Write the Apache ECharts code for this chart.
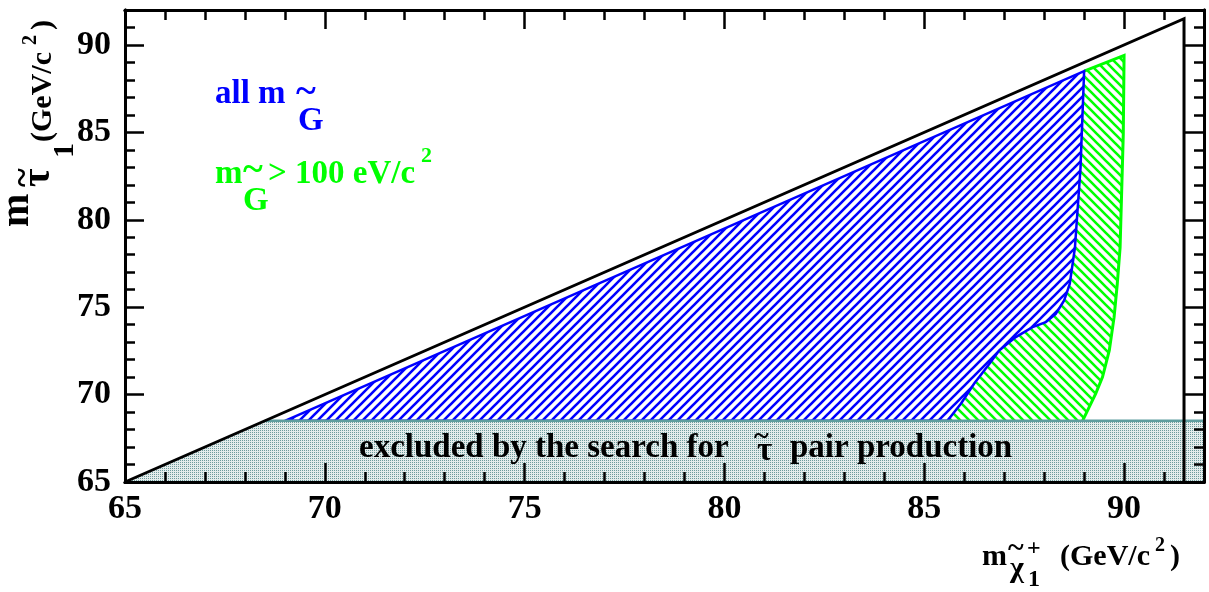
<!DOCTYPE html>
<html><head><meta charset="utf-8">
<script src="https://cdn.jsdelivr.net/npm/echarts@6/dist/echarts.min.js"></script>
<style>html,body{margin:0;padding:0;background:#fff}#c{width:1209px;height:592px}</style>
</head><body><div id="c"></div>
<script>
// ---------- data ----------
const xRange = [65, 92];
const yRange = [65, 92];
const xTickLabels = ['65', '70', '75', '80', '85', '90'];
const yTickLabels = ['65', '70', '75', '80', '85', '90'];
// kinematic limit m(stau) = m(chargino), ending at m(chargino)=91.5
const kinematicLimit = [[65, 65], [91.5, 91.5], [91.5, 65]];
// region excluded by the direct stau pair search (m(stau) < 68.5)
const excludedBand = [[65, 65], [68.5, 68.5], [92, 68.5], [92, 65]];
const excludedBandTop = [[68.5, 68.5], [92, 68.5]];
// "all m(G~)" region: upper edge and right edge
const blueTopEdge = [[69.0, 68.5], [89.0, 88.5]];
const blueRightEdge = [[89.0, 88.5], [88.91, 82.97], [88.77, 78.4], [88.64, 76.33], [88.5, 75.38],
  [88.29, 74.62], [88.04, 74.14], [87.71, 73.86], [87.29, 73.29], [86.88, 72.53], [86.63, 71.77],
  [86.25, 70.63], [85.92, 69.49], [85.58, 68.5]];
// "m(G~) > 100 eV/c^2" region: outer edge
const greenOuterEdge = [[89.0, 88.5], [90.0, 89.4], [89.98, 84.9], [89.9, 78.4], [89.83, 76.33],
  [89.75, 74.43], [89.63, 72.53], [89.46, 71.0], [89.29, 70.06], [89.13, 69.3], [88.96, 68.5]];

// ---------- styling helpers ----------
const FONT = 'Liberation Serif';
function hatch(color, dir, p, w) {
  const c = document.createElement('canvas');
  c.width = p; c.height = p;
  const g = c.getContext('2d');
  g.fillStyle = '#fff'; g.fillRect(0, 0, p, p);
  g.strokeStyle = color; g.lineWidth = w; g.beginPath();
  if (dir === '/') {
    g.moveTo(-1, p + 1); g.lineTo(p + 1, -1);
    g.moveTo(-1, 1); g.lineTo(1, -1);
    g.moveTo(p - 1, p + 1); g.lineTo(p + 1, p - 1);
  } else {
    g.moveTo(-1, -1); g.lineTo(p + 1, p + 1);
    g.moveTo(p - 1, -1); g.lineTo(p + 1, 1);
    g.moveTo(-1, p - 1); g.lineTo(1, p + 1);
  }
  g.stroke();
  return { image: c, repeat: 'repeat' };
}
function dots() {
  const c = document.createElement('canvas');
  c.width = 2; c.height = 2;
  const g = c.getContext('2d');
  g.fillStyle = '#e4ecec'; g.fillRect(0, 0, 2, 2);
  g.fillStyle = '#6e9c9c'; g.fillRect(0, 0, 1, 1);
  return { image: c, repeat: 'repeat' };
}
const blueFill = hatch('#0000ff', '/', 9, 2.6);
const greenFill = hatch('#00ff00', '\\', 9, 2.6);
const bandFill = dots();

function shapeSeries(z, build) {
  return {
    type: 'custom', coordinateSystem: 'cartesian2d', xAxisIndex: 0, yAxisIndex: 0,
    data: [[65, 65]], silent: true, animation: false, z: z, clip: false,
    renderItem: (params, api) => ({ type: 'group', children: build(api) })
  };
}
const P = (api, arr) => arr.map(p => api.coord(p));

const greenPoly = greenOuterEdge.concat(blueRightEdge.slice().reverse());
const bluePoly = blueTopEdge.concat(blueRightEdge.slice(1));

const series = [
  shapeSeries(2, api => [
    { type: 'polygon', shape: { points: P(api, greenPoly) }, style: { fill: greenFill, stroke: null } },
    { type: 'polyline', shape: { points: P(api, greenOuterEdge) }, style: { fill: null, stroke: '#00ff00', lineWidth: 3 } }
  ]),
  shapeSeries(3, api => [
    { type: 'polygon', shape: { points: P(api, bluePoly) }, style: { fill: blueFill, stroke: '#0000ff', lineWidth: 2.5 } }
  ]),
  shapeSeries(4, api => [
    { type: 'polygon', shape: { points: P(api, excludedBand) }, style: { fill: bandFill, stroke: null } },
    { type: 'polyline', shape: { points: P(api, excludedBandTop) }, style: { fill: null, stroke: '#5f9ea0', lineWidth: 2.5 } }
  ]),
  shapeSeries(5, api => [
    { type: 'polyline', shape: { points: P(api, kinematicLimit) }, style: { fill: null, stroke: '#000', lineWidth: 3 } }
  ])
];

// ---------- axes ----------
function labelFmt(list) { return v => (list.indexOf(String(v)) >= 0 ? String(v) : ''); }
function xAx(position, interval, tickLen, labels) {
  return {
    type: 'value', min: xRange[0], max: xRange[1], interval: interval, position: position, z: 20,
    axisLine: { show: true, onZero: false, lineStyle: { color: '#000', width: 3 } },
    axisTick: { show: true, inside: true, length: tickLen, lineStyle: { color: '#000', width: 2.5 } },
    axisLabel: labels ? { show: true, formatter: labelFmt(xTickLabels), fontSize: 34, fontWeight: 'bold', fontFamily: FONT, color: '#000', margin: 10 } : { show: false },
    splitLine: { show: false }
  };
}
function yAx(position, interval, tickLen, labels) {
  return {
    type: 'value', min: yRange[0], max: yRange[1], interval: interval, position: position, z: 20,
    axisLine: { show: true, onZero: false, lineStyle: { color: '#000', width: 3 } },
    axisTick: { show: true, inside: true, length: tickLen, lineStyle: { color: '#000', width: 2.5 } },
    axisLabel: labels ? { show: true, formatter: labelFmt(yTickLabels), fontSize: 34, fontWeight: 'bold', fontFamily: FONT, color: '#000', margin: 14 } : { show: false },
    splitLine: { show: false }
  };
}

// ---------- text helpers ----------
function T(text, x, y, fs, color, rot) {
  return {
    type: 'text', x: x, y: y, rotation: rot || 0, silent: true, z: 30,
    style: { text: text, fontSize: fs, fontWeight: 'bold', fontFamily: FONT, fill: color,
      align: 'left', verticalAlign: 'middle', textAlign: 'left', textVerticalAlign: 'middle' }
  };
}
const R = Math.PI / 2;
const graphics = [
  // y-axis title (rotated)
  T('m', 18, 227, 40, '#000', R),
  T('\u03C4', 39, 187, 40, '#000', R),
  T('~', 24, 187, 36, '#000', R),
  T('1', 65, 158, 30, '#000', R),
  T('(GeV/c', 43, 142, 30, '#000', R),
  T('2', 31, 45, 20, '#000', R),
  T(')', 43, 30, 30, '#000', R),
  // x-axis title
  T('m', 982, 557, 30, '#000'),
  T('~', 1008, 549, 30, '#000'),
  T('\u03C7', 1010, 569, 30, '#000'),
  T('1', 1028, 580, 24, '#000'),
  T('+', 1027, 549, 24, '#000'),
  T('(GeV/c', 1060, 557, 30, '#000'),
  T('2', 1155, 546, 20, '#000'),
  T(')', 1170, 557, 30, '#000'),
  // legend texts
  T('all m', 215, 94, 33, '#0000ff'),
  T('~', 296, 93, 38, '#0000ff'),
  T('G', 298, 121, 33, '#0000ff'),
  T('m', 215, 174, 33, '#00ff00'),
  T('~', 243, 171, 38, '#00ff00'),
  T('G', 243, 201, 33, '#00ff00'),
  T('> 100 eV/c', 268, 174, 33, '#00ff00'),
  T('2', 421, 156, 22, '#00ff00'),
  // band annotation
  T('excluded by the search for', 359, 448, 33, '#000'),
  T('~', 754, 437, 28, '#000'),
  T('\u03C4', 757, 451, 33, '#000'),
  T('pair production', 790, 448, 33, '#000')
];

const chart = echarts.init(document.getElementById('c'), null, { renderer: 'canvas' });
chart.setOption({
  backgroundColor: '#fff',
  animation: false,
  grid: { left: 125, right: 5, top: 10, bottom: 110, containLabel: false },
  xAxis: [xAx('bottom', 5, 19, true), xAx('bottom', 1, 10, false), xAx('top', 5, 19, false), xAx('top', 1, 10, false)],
  yAxis: [yAx('left', 5, 19, true), yAx('left', 1, 10, false), yAx('right', 5, 19, false), yAx('right', 1, 10, false)],
  series: series,
  graphic: graphics
});
</script></body></html>
